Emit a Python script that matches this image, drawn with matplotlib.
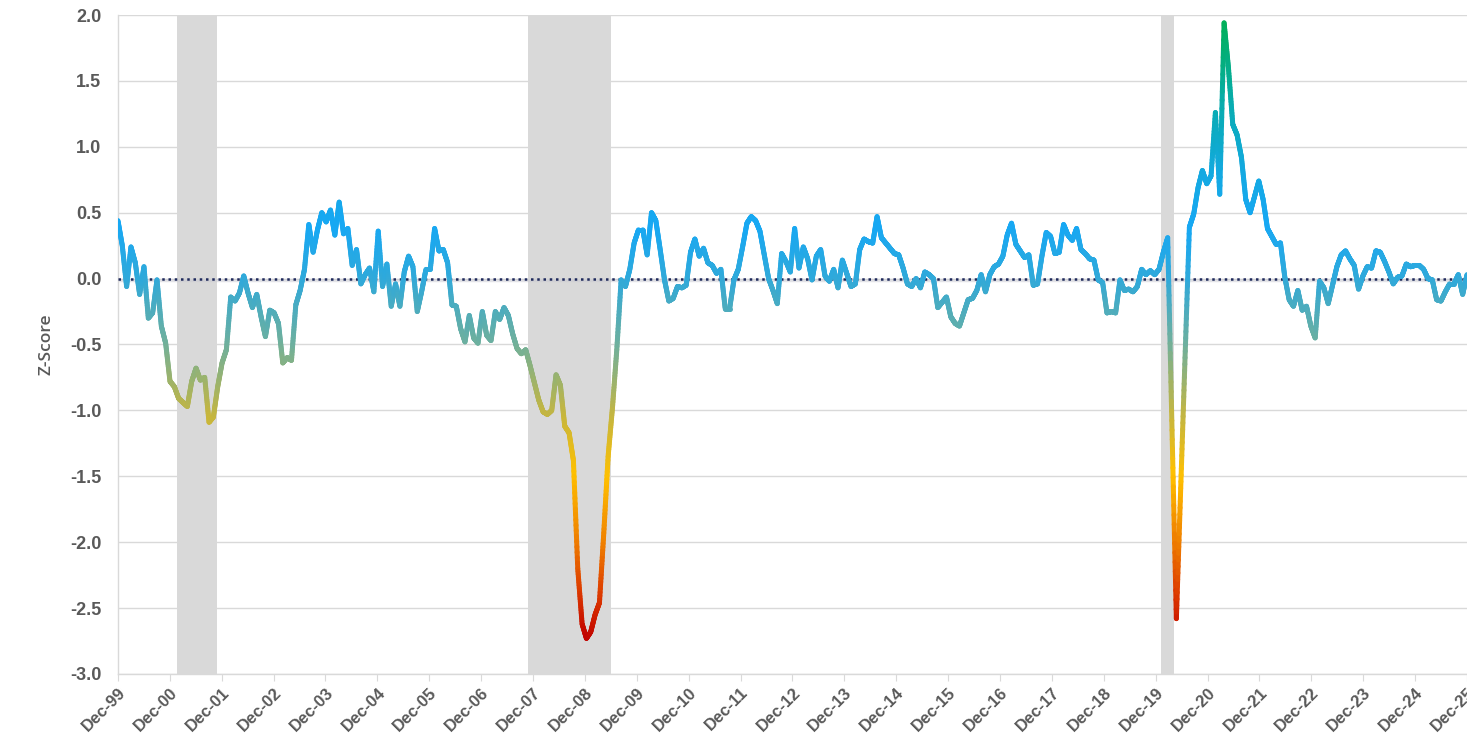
import numpy as np
import matplotlib
matplotlib.use('Agg')
import matplotlib.pyplot as plt
from matplotlib.collections import LineCollection
from matplotlib.colors import LinearSegmentedColormap

# monthly z-score, Dec-99 onwards
z_2000s = [0.44, 0.25, -0.06, 0.24, 0.12, -0.12, 0.09, -0.30, -0.26, -0.01, -0.36, -0.49,
           -0.78, -0.82, -0.91, -0.94, -0.97, -0.78, -0.68, -0.77, -0.75, -1.09, -1.05, -0.82,
           -0.64, -0.54, -0.14, -0.17, -0.11, 0.02, -0.11, -0.22, -0.12, -0.29, -0.44, -0.24,
           -0.26, -0.34, -0.64, -0.60, -0.62, -0.20, -0.09, 0.07, 0.41, 0.20, 0.37, 0.50,
           0.43, 0.52, 0.33, 0.58, 0.34, 0.38, 0.10, 0.22, -0.04, 0.03, 0.08, -0.10,
           0.36, -0.06, 0.11, -0.21, -0.04, -0.21, 0.05, 0.17, 0.09, -0.25, -0.10, 0.07,
           0.07, 0.38, 0.21, 0.22, 0.12, -0.20, -0.21, -0.38, -0.48, -0.28, -0.45, -0.49,
           -0.25, -0.43, -0.47, -0.25, -0.31, -0.22, -0.28, -0.42, -0.53, -0.57, -0.54, -0.66,
           -0.79, -0.92, -1.01, -1.03, -1.00, -0.73, -0.81, -1.12, -1.17, -1.38, -2.20, -2.62,
           -2.73, -2.68, -2.55, -2.46, -1.93, -1.35, -0.98, -0.54, -0.01, -0.06, 0.07, 0.27]
z_2010s = [0.37, 0.37, 0.18, 0.50, 0.44, 0.22, -0.01, -0.17, -0.15, -0.06, -0.07, -0.05,
           0.20, 0.30, 0.17, 0.23, 0.12, 0.10, 0.04, 0.07, -0.23, -0.23, -0.01, 0.07,
           0.24, 0.42, 0.47, 0.44, 0.36, 0.18, 0.00, -0.09, -0.19, 0.19, 0.13, 0.05,
           0.38, 0.08, 0.24, 0.15, -0.01, 0.17, 0.22, 0.02, -0.02, 0.07, -0.07, 0.14,
           0.04, -0.06, -0.04, 0.22, 0.30, 0.28, 0.27, 0.47, 0.31, 0.27, 0.23, 0.19,
           0.18, 0.08, -0.04, -0.06, 0.00, -0.07, 0.05, 0.03, 0.00, -0.22, -0.18, -0.14,
           -0.29, -0.34, -0.36, -0.26, -0.16, -0.15, -0.09, 0.03, -0.10, 0.03, 0.09, 0.11,
           0.17, 0.33, 0.42, 0.26, 0.21, 0.16, 0.18, -0.05, -0.04, 0.17, 0.35, 0.32,
           0.19, 0.20, 0.41, 0.33, 0.29, 0.38, 0.22, 0.19, 0.15, 0.14, -0.01, -0.03,
           -0.26, -0.25, -0.26, -0.01, -0.09, -0.08, -0.10, -0.06, 0.07, 0.03, 0.06, 0.03]
z_2020s = [0.07, 0.20, 0.31, -1.15, -2.58, -1.59, -0.60, 0.39, 0.49, 0.69, 0.82, 0.72,
           0.78, 1.26, 0.64, 1.94, 1.60, 1.17, 1.09, 0.92, 0.60, 0.50, 0.62, 0.74,
           0.60, 0.38, 0.32, 0.26, 0.27, 0.01, -0.16, -0.21, -0.09, -0.24, -0.21, -0.36,
           -0.45, -0.02, -0.07, -0.19, -0.05, 0.09, 0.18, 0.21, 0.15, 0.10, -0.08, 0.02,
           0.09, 0.08, 0.21, 0.20, 0.13, 0.05, -0.04, 0.01, 0.02, 0.11, 0.09, 0.10,
           0.10, 0.07, 0.00, -0.01, -0.16, -0.17, -0.10, -0.04, -0.04, 0.03, -0.12, 0.03]
z_score = np.array(z_2000s + z_2010s + z_2020s)

tick_labels = ['Dec-%02d' % (y % 100) for y in range(1999, 2026)]
# recession bands in month index from Dec-99
recessions = [(13.7, 22.8), (94.5, 113.6), (240.4, 243.5)]

grey_txt = '#595959'
fig = plt.figure(figsize=(14.67, 7.39), dpi=100)
ax = fig.add_axes([0.0804, 0.088, 0.9196, 0.8917])

n = len(z_score)
x = np.arange(n)

ax.set_xlim(0, n - 1)
ax.set_ylim(-3.0, 2.0)
ax.set_yticks(np.arange(-3.0, 2.01, 0.5))
ax.set_yticklabels(['%.1f' % v for v in np.arange(-3.0, 2.01, 0.5)])
ax.set_xticks(np.linspace(0, n - 1, len(tick_labels)))
ax.set_xticklabels(tick_labels, rotation=45, ha='right', va='top', rotation_mode='anchor')

ax.grid(axis='y', color='#d9d9d9', linewidth=1.0, zorder=0)
ax.set_axisbelow(True)
for s in ['top', 'right']:
    ax.spines[s].set_visible(False)
ax.spines['left'].set_color('#d9d9d9')
ax.spines['bottom'].set_color('#d9d9d9')
ax.spines['left'].set_linewidth(1.0)
ax.spines['bottom'].set_linewidth(1.0)
ax.tick_params(axis='y', length=0, pad=12, labelcolor=grey_txt, labelsize=13)
ax.tick_params(axis='x', length=5, color='#d9d9d9', pad=3, labelcolor=grey_txt, labelsize=12)
for lab in ax.get_xticklabels() + ax.get_yticklabels():
    lab.set_fontweight('bold')
    lab.set_family('Liberation Sans')

ax.set_ylabel('Z-Score', fontsize=12.5, color=grey_txt, family='Open Sans',
              fontweight='semibold', labelpad=11)

for a, b in recessions:
    ax.axvspan(a, b, color='#d9d9d9', linewidth=0, zorder=1)

# zero line with a soft shadow
ax.axhline(-0.012, color='#c8c8d0', linewidth=2.5, alpha=0.5, zorder=2)
ax.axhline(0, color='#1f2a5c', linewidth=1.8, linestyle=(0, (1, 1.5)), zorder=3)

# colour by value, like a vertical gradient
stops = [(-2.75, '#c00000'), (-2.4, '#dc3800'), (-2.0, '#ef7f00'), (-1.5, '#ffc000'),
         (-1.0, '#c0b545'), (-0.5, '#70b09c'), (0.0, '#30a9da'), (0.4, '#17a8f4'),
         (0.8, '#14a9e2'), (1.3, '#08acb2'), (2.0, '#00b050')]
lo, hi = stops[0][0], stops[-1][0]
cmap = LinearSegmentedColormap.from_list('zs', [((v - lo) / (hi - lo), c) for v, c in stops])

sub = 20
xs, ys = [], []
for i in range(n - 1):
    t = np.linspace(0, 1, sub + 1)
    xs.append(x[i] + t * (x[i + 1] - x[i]))
    ys.append(z_score[i] + t * (z_score[i + 1] - z_score[i]))
xs = np.concatenate(xs)
ys = np.concatenate(ys)
pts = np.column_stack([xs, ys]).reshape(-1, 1, 2)
segs = np.concatenate([pts[:-1], pts[1:]], axis=1)
mid = (ys[:-1] + ys[1:]) / 2
lc = LineCollection(segs, colors=cmap((mid - lo) / (hi - lo)), linewidths=3.6,
                    capstyle='round', joinstyle='round', zorder=4)
ax.add_collection(lc)

plt.savefig('out.png', dpi=100)
